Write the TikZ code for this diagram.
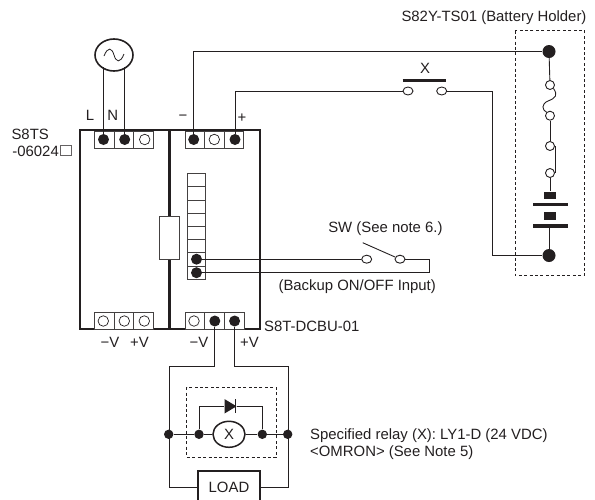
\documentclass[tikz,border=0pt]{standalone}
\usepackage{fontspec}
\setmainfont{Liberation Sans}
\usepackage{tikz}
\usetikzlibrary{calc,shapes.geometric}
\definecolor{ink}{HTML}{231F20}
\tikzset{
  wire/.style={color=ink,line width=0.9pt},
  frame/.style={color=ink,line width=2.3pt},
  dashbox/.style={color=ink,line width=0.7pt,dash pattern=on 3pt off 2.4pt},
  cell/.style={draw=ink!85,line width=0.8pt,fill=white,rectangle,inner sep=0pt,minimum width=19.6pt,minimum height=17pt},
  strip/.style={draw=ink!85,line width=0.8pt,fill=white,rectangle,inner sep=0pt,minimum width=17.6pt,minimum height=13.3pt},
  dot/.style={circle,fill=ink,inner sep=0pt,minimum size=11pt},
  bigdot/.style={circle,fill=ink,inner sep=0pt,minimum size=13pt},
  smalldot/.style={circle,fill=ink,inner sep=0pt,minimum size=9.4pt},
  opendot/.style={circle,draw=ink,line width=0.7pt,fill=white,inner sep=0pt,minimum size=10.5pt},
  contact/.style={ellipse,draw=ink,line width=0.9pt,fill=white,inner sep=0pt,minimum width=10pt,minimum height=8pt},
  lbl/.style={inner sep=0pt,text=ink,font=\fontsize{14.9}{17}\selectfont}
}
\begin{document}
\begin{tikzpicture}[x=1pt,y=-1pt]
  \useasboundingbox (0,0) rectangle (595,499);
  % housings
  \draw[frame] (80,329) rectangle (169.5,130);
  \draw[frame] (169.5,329) rectangle (260,130);
  \node[draw=ink!85,line width=0.8pt,fill=white,inner sep=0pt,minimum width=20pt,minimum height=42.6pt] (fusebox) at (169,238) {};
  % terminal blocks
  \node[cell] (ca) at (104.1,139.5) {};
  \node[cell] (cb) at (123.8,139.5) {};
  \node[cell] (cc) at (143.5,139.5) {};
  \node[cell] (cd) at (194.8,139.5) {};
  \node[cell] (ce) at (214.4,139.5) {};
  \node[cell] (cf) at (234,139.5) {};
  \node[cell] (cg) at (104.1,320.7) {};
  \node[cell] (ch) at (123.8,320.7) {};
  \node[cell] (ci) at (143.5,320.7) {};
  \node[cell] (cj) at (195,320.7) {};
  \node[cell] (ck) at (214.6,320.7) {};
  \node[cell] (cl) at (234.2,320.7) {};
  \foreach \row/\ypos in {1/180,2/193.3,3/206.6,4/219.9,5/233.2,6/246.3,7/259.4,8/272.7}
    \node[strip] (st\row) at (196.5,\ypos) {};
  \node[dot] (tl) at (103.5,139.5) {};
  \node[dot] (tn) at (124.7,139.5) {};
  \node[opendot] at (144.7,139.5) {};
  \node[dot] (tminus) at (193.7,139.5) {};
  \node[opendot] at (214.3,139.5) {};
  \node[dot] (tplus) at (235,139.5) {};
  \node[opendot] at (103.3,321) {};
  \node[opendot] at (124.3,321) {};
  \node[opendot] at (144.3,321) {};
  \node[opendot] at (194,321) {};
  \node[dot] (tvm) at (214.8,321) {};
  \node[dot] (tvp) at (234.6,321) {};
  \node[dot] (tsa) at (196.5,259.2) {};
  \node[dot] (tsb) at (196.5,272.7) {};
  % AC source
  \node[ellipse,draw=ink,line width=1.6pt,inner sep=0pt,minimum width=38pt,minimum height=32pt] (ac) at (114,55) {};
  \draw[ink,line width=0.8pt] (104,56) .. controls (108,46) and (112,48) .. (114,55) .. controls (116,62) and (120,64) .. (124,54);
  \draw[wire] (tl) -- (tl |- ac.south west);
  \draw[wire] (tn) -- (tn |- ac.south east);
  % battery holder
  \draw[dashbox] (515,30.7) rectangle (584.7,275.3);
  \node[bigdot] (bata) at (549,51.5) {};
  \node[bigdot] (batb) at (549,255.5) {};
  \node[contact,minimum width=9pt,minimum height=9pt] (fusea) at (550,85) {};
  \node[contact,minimum width=9pt,minimum height=9pt] (fuseb) at (550,115.7) {};
  \node[contact,minimum width=9pt,minimum height=9pt] (linka) at (550,146) {};
  \node[contact,minimum width=9pt,minimum height=9pt] (linkb) at (550,173) {};
  \node[fill=ink,inner sep=0pt,minimum width=12pt,minimum height=7.4pt] (cella) at (550,195.3) {};
  \node[fill=ink,inner sep=0pt,minimum width=35pt,minimum height=3pt] (plata) at (550.5,204.3) {};
  \node[fill=ink,inner sep=0pt,minimum width=12pt,minimum height=8pt] (cellb) at (550,216) {};
  \node[fill=ink,inner sep=0pt,minimum width=35pt,minimum height=4pt] (platb) at (550.5,225.7) {};
  \draw[wire] (bata) -- (fusea);
  \draw[wire] (fusea.south east) .. controls (558,95) and (556,98) .. (548,101) .. controls (541,104) and (542,110) .. (fuseb.north west);
  \draw[wire] (fuseb) -- (linka);
  \draw[wire] (linka.east) -- (linkb.east);
  \draw[wire] (linkb) -- (cella);
  \draw[wire] (platb.south -| batb) -- (batb);
  % relay contact X
  \node[contact] (xa) at (408,91) {};
  \node[contact] (xb) at (441.7,91) {};
  \coordinate (xbara) at (402.7,80.3);
  \coordinate (xbarb) at (446,80.3);
  \draw[ink,line width=2.4pt] (xbara) -- (xbarb);
  \draw[wire] (tminus) |- (bata);
  \draw[wire] (tplus) |- (xa);
  \coordinate (xturn) at (492,91);
  \draw[wire] (xb) -- (xturn) |- (batb);
  % backup switch
  \node[contact] (swa) at (366.7,259.2) {};
  \node[contact] (swb) at (400,259.2) {};
  \coordinate (swlever) at (362.7,242.7);
  \coordinate (swturn) at (429.3,259.2);
  \draw[wire] (tsa) -- (swa);
  \draw[wire] (swlever) -- (swb);
  \draw[wire] (swb) -- (swturn) |- (tsb);
  % load circuit
  \node[draw=ink,line width=2pt,fill=white,inner sep=0pt,minimum width=62pt,minimum height=32pt,lbl] (load) at (229,487.3) {LOAD};
  \node[smalldot] (ra) at (168.7,434.3) {};
  \node[smalldot] (rb) at (199,434.3) {};
  \node[smalldot] (rc) at (262.3,434.3) {};
  \node[smalldot] (rd) at (287.7,434.3) {};
  \node[ellipse,draw=ink,line width=1.5pt,inner sep=0pt,minimum width=32pt,minimum height=26pt,lbl] (coil) at (229,434.3) {X};
  \coordinate (va) at (169,366.7);
  \coordinate (vb) at (288.5,366.7);
  \draw[wire] (tvm) |- (va);
  \draw[wire] (va) |- (load);
  \draw[wire] (tvp) |- (vb);
  \draw[wire] (vb) |- (load);
  \draw[wire] (ra) -- (rb) -- (coil) -- (rc) -- (rd);
  \node[isosceles triangle,isosceles triangle apex angle=62,fill=ink,inner sep=0pt,minimum height=12pt,minimum width=13.4pt] (diode) at (228.6,406.3) {};
  \coordinate (dtop) at (235,399.3);
  \coordinate (dbot) at (235,412.7);
  \draw[ink,line width=1pt] (dtop) -- (dbot);
  \draw[wire] (rb) |- (diode);
  \draw[wire] (rc) |- (diode);
  \draw[dashbox] (186.7,387.3) rectangle (276,457.3);
  % labels
  \node[lbl] at (90,115) {L};
  \node[lbl] at (112.7,115) {N};
  \node[lbl] at (183,118) {\textminus};
  \node[lbl] at (242,118) {+};
  \node[lbl,anchor=east] at (49,134) {S8TS};
  \node[lbl,anchor=east] at (59,151.5) {-06024};
  \node[draw=ink!70,line width=0.5pt,inner sep=0pt,minimum size=10.5pt] at (65.5,150) {};
  \node[lbl] at (110,342) {\textminus V};
  \node[lbl] at (139.5,342) {+V};
  \node[lbl] at (199,342) {\textminus V};
  \node[lbl] at (249.5,342) {+V};
  \node[lbl,anchor=west] at (264,326.7) {S8T-DCBU-01};
  \node[lbl] at (494,17.7) {S82Y-TS01 (Battery Holder)};
  \node[lbl] at (425,68) {X};
  \node[lbl] at (385.4,229) {SW (See note 6.)};
  \node[lbl] at (357.2,287) {(Backup ON/OFF Input)};
  \node[lbl,anchor=west] at (310,436) {Specified relay (X): LY1-D (24 VDC)};
  \node[lbl,anchor=west] at (310,453) {<OMRON> (See Note 5)};
\end{tikzpicture}
\end{document}
